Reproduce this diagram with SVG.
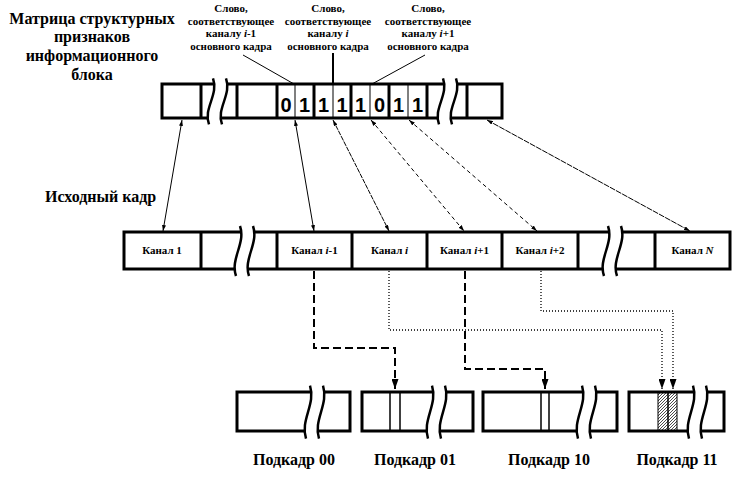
<svg xmlns="http://www.w3.org/2000/svg" width="737" height="479" viewBox="0 0 737 479">
<style>
text{font-family:"Liberation Serif","Times New Roman",serif;font-weight:bold;fill:#000}
.h{font-size:16px;text-anchor:middle}
.hl{font-size:16px}
.s{font-size:11px;text-anchor:middle}
.c{font-size:11px;text-anchor:middle}
.p{font-size:16px;text-anchor:middle}
.b{font-family:"Liberation Sans",Arial,sans-serif;font-size:20px;text-anchor:middle}
.i{font-style:italic}
.box{fill:#fff;stroke:#000;stroke-width:3}
.div{stroke:#000;stroke-width:3}
.thin{stroke:#000;stroke-width:1}
.wv{fill:none;stroke:#000;stroke-width:2.5}
.ar{fill:none;stroke:#000;stroke-width:1}
.dl{fill:none;stroke:#000;stroke-width:2;stroke-dasharray:8 4}
.dt{fill:none;stroke:#000;stroke-width:1.3;stroke-dasharray:1 2}
</style>
<defs>
<g id="brk">
<path d="M2,-6 C8,11.5 -8,26.5 -2,44 L11,44 C5,26.5 21,11.5 15,-6 Z" fill="#fff"/>
<path class="wv" d="M2,-6 C8,11.5 -8,26.5 -2,44"/>
<path class="wv" d="M15,-6 C21,11.5 5,26.5 11,44"/>
</g>
<marker id="sa" viewBox="0 0 6 4" refX="6" refY="2" markerWidth="6" markerHeight="4" markerUnits="userSpaceOnUse" orient="auto-start-reverse">
<path d="M0,0 L6,2 L0,4 Z" fill="#000"/>
</marker>
<marker id="la" viewBox="0 0 7 10" refX="3.5" refY="10" markerWidth="7" markerHeight="10" markerUnits="userSpaceOnUse" orient="0">
<path d="M0,0 L7,0 L3.5,10 Z" fill="#000"/>
</marker>
<pattern id="hat" patternUnits="userSpaceOnUse" width="3" height="3">
<path d="M-1,1 L1,-1 M0,3 L3,0 M2,4 L4,2" stroke="#000" stroke-width="0.7"/>
</pattern>
</defs>

<g id="title">
<text class="h" x="92" y="24">Матрица структурных</text>
<text class="h" x="92" y="42">признаков</text>
<text class="h" x="92" y="61">информационного</text>
<text class="h" x="92" y="80">блока</text>
</g>

<g id="label-i-1">
<text class="s" x="231" y="12">Слово,</text>
<text class="s" x="231" y="25">соответствующее</text>
<text class="s" x="231" y="37">каналу <tspan class="i">i</tspan>-1</text>
<text class="s" x="231" y="50">основного кадра</text>
</g>
<g id="label-i">
<text class="s" x="328" y="12">Слово,</text>
<text class="s" x="328" y="25">соответствующее</text>
<text class="s" x="328" y="37">каналу <tspan class="i">i</tspan></text>
<text class="s" x="328" y="50">основного кадра</text>
</g>
<g id="label-i+1">
<text class="s" x="428" y="12">Слово,</text>
<text class="s" x="428" y="25">соответствующее</text>
<text class="s" x="428" y="37">каналу <tspan class="i">i</tspan>+1</text>
<text class="s" x="428" y="50">основного кадра</text>
</g>

<g id="matrix">
<rect class="box" x="162" y="84" width="340" height="34"/>
<line class="div" x1="201" y1="84" x2="201" y2="118"/>
<line class="div" x1="237" y1="84" x2="237" y2="118"/>
<line class="div" x1="277" y1="84" x2="277" y2="118"/>
<line class="div" x1="314" y1="84" x2="314" y2="118"/>
<line class="div" x1="351" y1="84" x2="351" y2="118"/>
<line class="div" x1="389" y1="84" x2="389" y2="118"/>
<line class="div" x1="427" y1="84" x2="427" y2="118"/>
<line class="div" x1="467" y1="84" x2="467" y2="118"/>
<line class="thin" x1="295" y1="84" x2="295" y2="118"/>
<line class="thin" x1="333" y1="84" x2="333" y2="118"/>
<line class="thin" x1="370" y1="84" x2="370" y2="118"/>
<line class="thin" x1="408" y1="84" x2="408" y2="118"/>
<use href="#brk" transform="translate(211,84) scale(1,0.92)"/>
<use href="#brk" transform="translate(441,84) scale(1,0.92)"/>
<text class="b" x="286" y="112">0</text>
<text class="b" x="304.5" y="112">1</text>
<text class="b" x="323.5" y="112">1</text>
<text class="b" x="342" y="112">1</text>
<text class="b" x="360.5" y="112">1</text>
<text class="b" x="379.5" y="112">0</text>
<text class="b" x="398.5" y="112">1</text>
<text class="b" x="417.5" y="112">1</text>
</g>

<g id="frame-label">
<text class="hl" x="45" y="202">Исходный кадр</text>
</g>

<g id="frame">
<rect class="box" x="124" y="232" width="606" height="37"/>
<line class="div" x1="201" y1="232" x2="201" y2="269"/>
<line class="div" x1="277" y1="232" x2="277" y2="269"/>
<line class="div" x1="352" y1="232" x2="352" y2="269"/>
<line class="div" x1="427" y1="232" x2="427" y2="269"/>
<line class="div" x1="502" y1="232" x2="502" y2="269"/>
<line class="div" x1="578" y1="232" x2="578" y2="269"/>
<line class="div" x1="655" y1="232" x2="655" y2="269"/>
<use href="#brk" transform="translate(238,232)"/>
<use href="#brk" transform="translate(606,232)"/>
<text class="c" x="162" y="254">Канал 1</text>
<text class="c" x="314.5" y="254">Канал <tspan class="i">i</tspan>-1</text>
<text class="c" x="389.5" y="254">Канал <tspan class="i">i</tspan></text>
<text class="c" x="464.5" y="254">Канал <tspan class="i">i</tspan>+1</text>
<text class="c" x="540" y="254">Канал <tspan class="i">i</tspan>+2</text>
<text class="c" x="692.5" y="254">Канал <tspan class="i">N</tspan></text>
</g>

<g id="sub00">
<rect class="box" x="237" y="392" width="113" height="39"/>
<use href="#brk" transform="translate(308,392) scale(1,1.06)"/>
<text class="p" x="294" y="465">Подкадр 00</text>
</g>
<g id="sub01">
<rect class="box" x="362" y="392" width="111" height="39"/>
<line stroke="#000" stroke-width="1.5" x1="390" y1="392" x2="390" y2="431"/>
<line stroke="#000" stroke-width="1.5" x1="400" y1="392" x2="400" y2="431"/>
<use href="#brk" transform="translate(430,392) scale(1,1.06)"/>
<text class="p" x="415" y="465">Подкадр 01</text>
</g>
<g id="sub10">
<rect class="box" x="483" y="392" width="134" height="39"/>
<line stroke="#000" stroke-width="1.5" x1="541" y1="392" x2="541" y2="431"/>
<line stroke="#000" stroke-width="1.5" x1="549" y1="392" x2="549" y2="431"/>
<use href="#brk" transform="translate(580,392) scale(1,1.06)"/>
<text class="p" x="549" y="465">Подкадр 10</text>
</g>
<g id="sub11">
<rect class="box" x="629" y="392" width="95" height="39"/>
<rect x="658" y="392" width="10" height="39" fill="url(#hat)" stroke="#000" stroke-width="1"/>
<rect x="668" y="392" width="9" height="39" fill="url(#hat)" stroke="#000" stroke-width="1"/>
<use href="#brk" transform="translate(691,392) scale(1,1.06)"/>
<text class="p" x="677" y="465">Подкадр 11</text>
</g>

<g id="connectors">
<line class="thin" x1="243" y1="55" x2="294" y2="84"/>
<line stroke="#000" stroke-width="2" x1="333" y1="53" x2="333" y2="84"/>
<line class="thin" x1="425" y1="55" x2="372" y2="84"/>

<line class="ar" x1="182" y1="120" x2="163" y2="231" marker-start="url(#sa)" marker-end="url(#sa)"/>
<line class="ar" x1="295" y1="120" x2="314" y2="231" marker-start="url(#sa)" marker-end="url(#sa)"/>
<line class="ar" x1="333" y1="120" x2="389" y2="231" stroke-dasharray="5 1" marker-start="url(#sa)" marker-end="url(#sa)"/>
<line class="ar" x1="371" y1="120" x2="464" y2="231" stroke-dasharray="4 3" marker-start="url(#sa)" marker-end="url(#sa)"/>
<line class="ar" x1="409" y1="120" x2="537" y2="231" stroke-dasharray="4 3" marker-start="url(#sa)" marker-end="url(#sa)"/>
<line class="ar" x1="487" y1="120" x2="690" y2="231" stroke-dasharray="6 1" marker-start="url(#sa)" marker-end="url(#sa)"/>

<path class="dl" d="M314,271 V348 H395 V389" marker-end="url(#la)"/>
<path class="dt" d="M389,271 V330 H662 V389" marker-end="url(#la)"/>
<path class="dl" d="M465,271 V369 H545 V389" marker-end="url(#la)"/>
<path class="dt" d="M541,271 V311 H673 V389" marker-end="url(#la)"/>
</g>
</svg>
